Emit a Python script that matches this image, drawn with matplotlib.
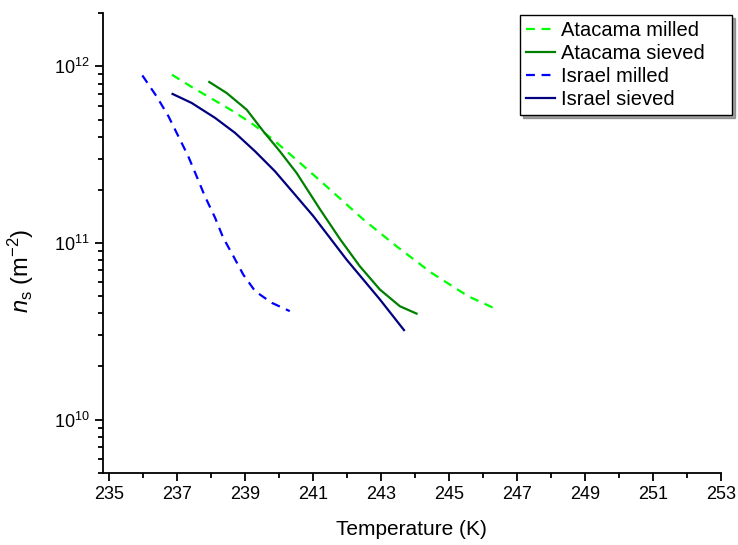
import numpy as np
import matplotlib
matplotlib.use("Agg")
import matplotlib.pyplot as plt
from matplotlib.ticker import LogLocator, MultipleLocator, NullFormatter

plt.rcParams["font.family"] = "Liberation Sans"
plt.rcParams["mathtext.fontset"] = "custom"
plt.rcParams["mathtext.rm"] = "Liberation Sans"
plt.rcParams["mathtext.it"] = "Liberation Sans:italic"

# data (T in K, ns in m^-2)
T_atacama_milled = [236.84, 237.47, 238.06, 238.65, 239.24, 239.82, 240.61, 241.49,
                    242.47, 243.45, 244.48, 245.56, 246.29]
ns_atacama_milled = [8.97e11, 7.55e11, 6.48e11, 5.56e11, 4.68e11, 3.85e11, 2.84e11, 2.01e11,
                     1.36e11, 9.58e10, 6.77e10, 4.99e10, 4.30e10]

T_atacama_sieved = [237.94, 238.45, 239.04, 239.53, 240.02, 240.51, 241.20, 241.79,
                    242.37, 242.96, 243.55, 244.04]
ns_atacama_sieved = [8.16e11, 7.07e11, 5.69e11, 4.29e11, 3.30e11, 2.49e11, 1.55e11, 1.05e11,
                     7.38e10, 5.45e10, 4.38e10, 3.98e10]

T_israel_milled = [235.97, 236.39, 236.74, 237.03, 237.32, 237.57, 237.81, 238.11,
                   238.35, 238.65, 238.94, 239.29, 239.78, 240.31]
ns_israel_milled = [8.89e11, 6.76e11, 5.21e11, 4.02e11, 3.10e11, 2.38e11, 1.84e11, 1.39e11,
                    1.07e11, 8.41e10, 6.62e10, 5.33e10, 4.58e10, 4.11e10]

T_israel_sieved = [236.86, 237.42, 238.11, 238.70, 239.29, 239.87, 240.46, 241.00,
                   241.98, 242.96, 243.67]
ns_israel_sieved = [6.98e11, 6.21e11, 5.11e11, 4.20e11, 3.30e11, 2.55e11, 1.88e11, 1.42e11,
                    8.05e10, 4.79e10, 3.21e10]

fig = plt.figure(figsize=(7.38, 5.45), dpi=100)
ax = fig.add_axes([0.139, 0.1327, 0.838, 0.843])

dash = (0, (4, 3))
ax.plot(T_atacama_milled, ns_atacama_milled, color="#00ff00", ls=dash, lw=1.6, label="Atacama milled")
ax.plot(T_atacama_sieved, ns_atacama_sieved, color="#008000", lw=1.6, label="Atacama sieved")
ax.plot(T_israel_milled, ns_israel_milled, color="#0000ff", ls=dash, lw=1.6, label="Israel milled")
ax.plot(T_israel_sieved, ns_israel_sieved, color="#000080", lw=1.6, label="Israel sieved")

ax.set_yscale("log")
ax.set_xlim(234.8, 253)
ax.set_ylim(5e9, 2e12)
ax.set_xticks(np.arange(235, 254, 2))
ax.xaxis.set_minor_locator(MultipleLocator(1))
ax.yaxis.set_minor_locator(LogLocator(base=10, subs=np.arange(2, 10)))
ax.yaxis.set_minor_formatter(NullFormatter())

for s in ["top", "right"]:
    ax.spines[s].set_visible(False)
for s in ["left", "bottom"]:
    ax.spines[s].set_linewidth(1.3)
ax.tick_params(which="major", direction="out", length=6, width=1.3, labelsize=13)
ax.tick_params(which="minor", direction="out", length=3.5, width=1.3)

ax.set_xlabel("Temperature (K)", fontsize=15, labelpad=12)
ax.set_ylabel(r"$n_{\mathrm{s}}$ (m$^{-2}$)", fontsize=17)
ax.yaxis.set_label_coords(-0.108, 0.44)

# legend box spans roughly x 520..732 px, top at 15 px
x0, x1 = 520 / 738, 732 / 738
leg = ax.legend(loc="upper left", bbox_to_anchor=(x0, 0, x1 - x0, 1 - 15 / 545),
                bbox_transform=fig.transFigure, mode="expand", fontsize=14.5,
                frameon=True, fancybox=False, shadow=True, handlelength=1.45,
                handletextpad=0.3, borderpad=0.3, labelspacing=0.2, borderaxespad=0)
leg.get_frame().set_edgecolor("black")
leg.get_frame().set_linewidth(1.0)

fig.savefig("out.png", dpi=100)
